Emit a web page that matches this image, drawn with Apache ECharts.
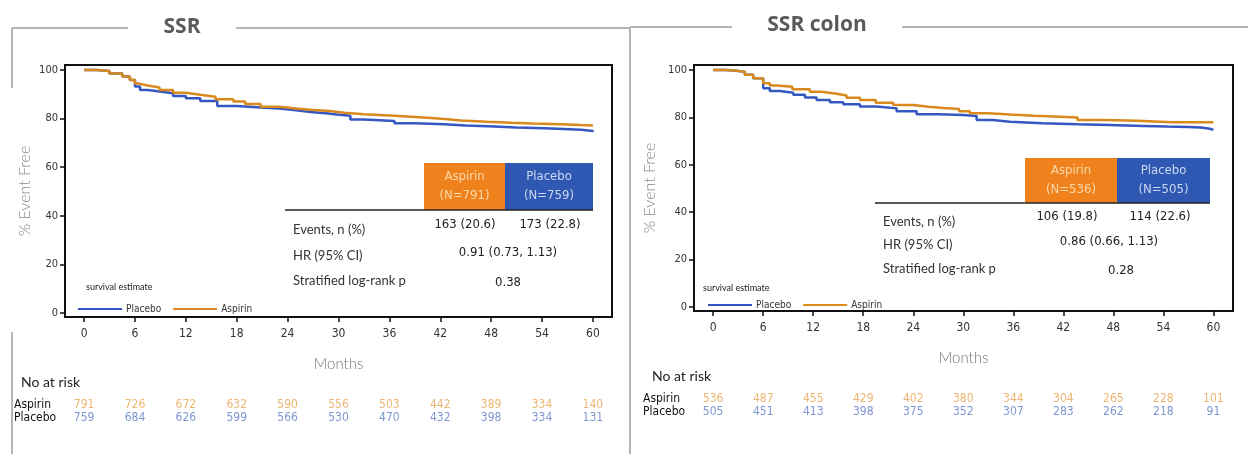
<!DOCTYPE html>
<html>
<head>
<meta charset="utf-8">
<script src="https://cdn.jsdelivr.net/npm/echarts/dist/echarts.min.js"></script>
<style>
  html, body { margin: 0; padding: 0; background: #ffffff; }
  #chart { width: 1248px; height: 454px; }
</style>
</head>
<body>
<div id="chart"></div>
<script>
// Follow-up months shown on the time axis and in the at-risk tables
const months = [0, 6, 12, 18, 24, 30, 36, 42, 48, 54, 60];
const yTicks = [0, 20, 40, 60, 80, 100];

// Numbers at risk
const ssrAspirinRisk = [791, 726, 672, 632, 590, 556, 503, 442, 389, 334, 140];
const ssrPlaceboRisk = [759, 684, 626, 599, 566, 530, 470, 432, 398, 334, 131];
const colonAspirinRisk = [536, 487, 455, 429, 402, 380, 344, 304, 265, 228, 101];
const colonPlaceboRisk = [505, 451, 413, 398, 375, 352, 307, 283, 262, 218, 91];

// Kaplan-Meier estimates, [month, % event free]
const ssrAspirin = [[0,100],[1.5,99.6],[3,98.6],[4.5,97.3],[5.4,95.9],[6,94.4],[6.5,93.6],[7.5,92.8],[8.9,91.8],[10.5,90.6],[12,89.8],[13.7,89],[15.5,88],[17.6,87],[19,86],[20.8,84.9],[23,84.2],[25,83.6],[26.7,83.1],[29,82.4],[30.7,81.8],[33,81.2],[36.6,80.4],[40.5,79.8],[42.5,79.2],[44.5,78.7],[47.5,78.3],[50.4,78],[53,77.7],[56.3,77.4],[58.5,77.2],[60,77.2]];
const ssrPlacebo = [[0,100],[1.5,99.6],[3,98.6],[4.5,97.3],[5.4,95.9],[6,93.2],[6.6,91.8],[7.5,91.2],[8.9,90.4],[10.5,89.3],[12,88.4],[13.7,87.2],[15.7,85.2],[18,84.6],[20.8,84.2],[23,83.4],[25,82.7],[26.7,82.2],[28.5,81.7],[29.8,81.2],[31.4,79.6],[33,79],[36.6,78.1],[39,77.7],[42.5,77.2],[45,76.8],[48.4,76.3],[51,76],[54.3,75.7],[56.5,75.4],[58.6,74.9],[60,74.6]];
const colonAspirin = [[0,100],[1.5,99.7],[2.8,99.2],[3.8,98],[4.8,96.5],[6,94.4],[6.8,93.4],[7.6,92.9],[9.5,91.9],[11.6,90.8],[13,90],[14.8,89.2],[16,88.3],[17.6,87.3],[19.5,86.2],[21.6,85.2],[24,84.5],[25.8,84],[27.6,83.5],[29.5,82.6],[30.8,81.7],[33,81.2],[35.6,80.7],[38.5,80.3],[41.6,79.9],[43.7,78.9],[47,78.7],[49.7,78.5],[51.6,77.9],[55,77.9],[60,77.9]];
const colonPlacebo = [[0,100],[1.5,99.7],[2.8,99.2],[3.8,98],[4.8,96.5],[6,92.3],[6.8,91.1],[8,90.4],[9.6,89.5],[11,88.4],[12.4,87.3],[14,86.4],[15.6,85.5],[17.6,84.6],[19.6,83.8],[22,82.6],[24.4,81.3],[27,81],[30,80.6],[31.6,78.9],[33.5,78.2],[35.6,77.5],[39.5,77.1],[43.7,76.8],[47.5,76.4],[51.6,76.1],[54.5,75.9],[56.9,75.7],[58.5,75.2],[59.6,74.7],[60,74.6]];

// Summary statistics per panel
const panelTitles = ['SSR', 'SSR colon'];
const ssrHeaders = ['Aspirin\n(N=791)', 'Placebo\n(N=759)'];
const ssrEvents = ['163 (20.6)', '173 (22.8)'];
const ssrHR = '0.91 (0.73, 1.13)';
const ssrP = '0.38';
const colonHeaders = ['Aspirin\n(N=536)', 'Placebo\n(N=505)'];
const colonEvents = ['106 (19.8)', '114 (22.6)'];
const colonHR = '0.86 (0.66, 1.13)';
const colonP = '0.28';
const rowLabels = ['Events, n (%)', 'HR (95% CI)', 'Stratified log-rank p'];

const ASP_LINE = '#d98a1c';
const PLA_LINE = '#3557c2';
const ASP_BOX = '#f0821e';
const PLA_BOX = '#2f58b2';
const ASP_NUM = '#e9a34f';
const PLA_NUM = '#5d7cc4';
const NARROW = "'DejaVu Sans Condensed', 'Liberation Sans Narrow', 'Arial Narrow', 'Liberation Sans', sans-serif";
const ROUND = "Lato, 'Noto Sans', sans-serif";
const BORDER = '#9c9c9c';

const chart = echarts.init(document.getElementById('chart'), null, { renderer: 'canvas' });

function plotAxes(gridIndex, xmin, xmax, ymin, ymax, nameGapY) {
  const x = {
    type: 'value', gridIndex, min: xmin, max: xmax,
    splitLine: { show: false },
    axisLine: { show: true, onZero: false, lineStyle: { color: '#111', width: 2 } },
    axisTick: { show: true, length: 5, customValues: months, lineStyle: { color: '#111', width: 1.5 } },
    axisLabel: { customValues: months, margin: 11, color: '#333', fontFamily: NARROW, fontSize: 12 },
    name: 'Months', nameLocation: 'middle', nameGap: 40,
    nameTextStyle: { color: '#777', fontFamily: ROUND, fontSize: 15, fontWeight: 300 }
  };
  const y = {
    type: 'value', gridIndex, min: ymin, max: ymax,
    splitLine: { show: false },
    axisLine: { show: true, onZero: false, lineStyle: { color: '#111', width: 2 } },
    axisTick: { show: true, length: 5, customValues: yTicks, lineStyle: { color: '#111', width: 1.5 } },
    axisLabel: { customValues: yTicks, margin: 7, color: '#333', fontFamily: NARROW, fontSize: 11 },
    name: '% Event Free', nameLocation: 'middle', nameRotate: 90, nameGap: nameGapY,
    nameTextStyle: { color: '#888', fontFamily: ROUND, fontSize: 16, fontWeight: 300 }
  };
  return [x, y];
}

function riskAxes(gridIndex, xmin, xmax, margin) {
  const x = { type: 'value', gridIndex, min: xmin, max: xmax, show: false };
  const y = {
    type: 'category', gridIndex, data: ['Placebo', 'Aspirin'],
    axisLine: { show: false }, axisTick: { show: false }, splitLine: { show: false },
    axisLabel: { interval: 0, align: 'left', margin, color: '#111', fontFamily: NARROW, fontSize: 12 }
  };
  return [x, y];
}

function riskSeries(idx, row, values, color) {
  return {
    type: 'scatter', name: 'risk-' + row + idx, xAxisIndex: idx, yAxisIndex: idx,
    symbolSize: 1, itemStyle: { color: 'rgba(0,0,0,0)' }, silent: true,
    label: { show: true, position: 'inside', formatter: p => String(p.value[2]),
             color, fontFamily: NARROW, fontSize: 12 },
    data: months.map((m, i) => [m, row, values[i]])
  };
}

function kmSeries(name, idx, data, color) {
  return {
    type: 'line', name, xAxisIndex: idx, yAxisIndex: idx, step: 'end',
    showSymbol: false, symbol: 'none', data,
    lineStyle: { color, width: 2.5 }, itemStyle: { color }, silent: true
  };
}

const [x0, y0] = plotAxes(0, -2.25, 62.25, -1.65, 102.06, 32);
const [x1, y1] = riskAxes(1, -2.25, 62.25, 51);
const [x2, y2] = plotAxes(2, -2.3, 62.35, -1.7, 102.1, 36);
const [x3, y3] = riskAxes(3, -2.3, 62.35, 51);

// Summary table drawn inside each plot
function statsTable(o) {
  const els = [];
  els.push({ type: 'rect', shape: { x: o.bx, y: o.by, width: o.bw1, height: o.bh }, style: { fill: ASP_BOX } });
  els.push({ type: 'rect', shape: { x: o.bx + o.bw1, y: o.by, width: o.bw2, height: o.bh }, style: { fill: PLA_BOX } });
  els.push({ type: 'text', x: o.bx + o.bw1 / 2, y: o.by + o.bh / 2,
    style: { text: o.headers[0], fill: '#fbd9aa', font: '13px ' + NARROW, align: 'center', verticalAlign: 'middle', lineHeight: 19 } });
  els.push({ type: 'text', x: o.bx + o.bw1 + o.bw2 / 2, y: o.by + o.bh / 2,
    style: { text: o.headers[1], fill: '#cbd7f2', font: '13px ' + NARROW, align: 'center', verticalAlign: 'middle', lineHeight: 19 } });
  els.push({ type: 'line', shape: { x1: o.lx, y1: o.by + o.bh, x2: o.bx + o.bw1 + o.bw2, y2: o.by + o.bh },
    style: { stroke: '#222', lineWidth: 1.5 } });
  const label = (t, y) => ({ type: 'text', x: o.lx + 8, y,
    style: { text: t, fill: '#333', font: '13px ' + ROUND, verticalAlign: 'middle' } });
  const val = (t, x, y) => ({ type: 'text', x, y,
    style: { text: t, fill: '#222', font: '13px ' + NARROW, align: 'center', verticalAlign: 'middle' } });
  els.push(label(rowLabels[0], o.r1));
  els.push(label(rowLabels[1], o.r2));
  els.push(label(rowLabels[2], o.r3));
  els.push(val(o.events[0], o.v1x, o.r1 - 5));
  els.push(val(o.events[1], o.v2x, o.r1 - 5));
  els.push(val(o.hr, o.hx, o.r2 - 3));
  els.push(val(o.p, o.px, o.r3 + 2));
  return els;
}

function text(t, x, y, font, fill, align) {
  return { type: 'text', x, y, style: { text: t, font, fill, align: align || 'left', verticalAlign: 'middle' } };
}
function line(xa, ya, xb, yb) {
  return { type: 'line', shape: { x1: xa, y1: ya, x2: xb, y2: yb }, style: { stroke: BORDER, lineWidth: 1.5 } };
}

const graphics = [
  // panel frames
  line(12, 28, 128, 28), line(236, 28, 630, 28),
  line(12, 28, 12, 88), line(12, 332, 12, 454),
  line(630, 28, 630, 454),
  line(630, 27, 732, 27), line(902, 27, 1248, 27),
  text(panelTitles[0], 182, 27, 'bold 21px "Open Sans", sans-serif', '#5a5a5a', 'center'),
  text(panelTitles[1], 817, 25, 'bold 21px "Open Sans", sans-serif', '#5a5a5a', 'center'),
  // legend captions
  text('survival estimate', 86, 287, '9px ' + ROUND, '#222'),
  text('survival estimate', 703, 288, '9px ' + ROUND, '#222'),
  // at-risk captions
  text('No at risk', 21, 382, '14px ' + ROUND, '#222'),
  text('No at risk', 652, 376, '14px ' + ROUND, '#222'),
  ...statsTable({ bx: 424, by: 163, bw1: 81, bw2: 88, bh: 47, lx: 285, headers: ssrHeaders,
    events: ssrEvents, hr: ssrHR, p: ssrP, r1: 230, r2: 256, r3: 281, v1x: 465, v2x: 550, hx: 508, px: 508 }),
  ...statsTable({ bx: 1025, by: 158, bw1: 92, bw2: 93, bh: 45, lx: 875, headers: colonHeaders,
    events: colonEvents, hr: colonHR, p: colonP, r1: 222, r2: 245, r3: 269, v1x: 1067, v2x: 1160, hx: 1109, px: 1121 })
];

const legendBase = {
  orient: 'horizontal', itemWidth: 44, itemHeight: 2, itemGap: 12,
  textStyle: { fontFamily: NARROW, fontSize: 10, color: '#333', padding: [0, 0, 0, -1] },
  data: [{ name: 'Placebo', icon: 'rect' }, { name: 'Aspirin', icon: 'rect' }],
  selectedMode: false
};

chart.setOption({
  animation: false,
  backgroundColor: '#ffffff',
  grid: [
    { left: 65, top: 65, width: 547, height: 252, show: true, borderColor: '#111', borderWidth: 2, backgroundColor: 'transparent' },
    { left: 65, top: 398, width: 547, height: 26 },
    { left: 694, top: 65, width: 539, height: 246, show: true, borderColor: '#111', borderWidth: 2, backgroundColor: 'transparent' },
    { left: 694, top: 392, width: 539, height: 26 }
  ],
  xAxis: [x0, x1, x2, x3],
  yAxis: [y0, y1, y2, y3],
  legend: [
    Object.assign({}, legendBase, { left: 73, top: 299 }),
    Object.assign({}, legendBase, { left: 703, top: 295 })
  ],
  series: [
    kmSeries('Placebo', 0, ssrPlacebo, PLA_LINE),
    kmSeries('Aspirin', 0, ssrAspirin, ASP_LINE),
    riskSeries(1, 'Aspirin', ssrAspirinRisk, ASP_NUM),
    riskSeries(1, 'Placebo', ssrPlaceboRisk, PLA_NUM),
    kmSeries('Placebo', 2, colonPlacebo, PLA_LINE),
    kmSeries('Aspirin', 2, colonAspirin, ASP_LINE),
    riskSeries(3, 'Aspirin', colonAspirinRisk, ASP_NUM),
    riskSeries(3, 'Placebo', colonPlaceboRisk, PLA_NUM)
  ],
  graphic: graphics
});
</script>
</body>
</html>
